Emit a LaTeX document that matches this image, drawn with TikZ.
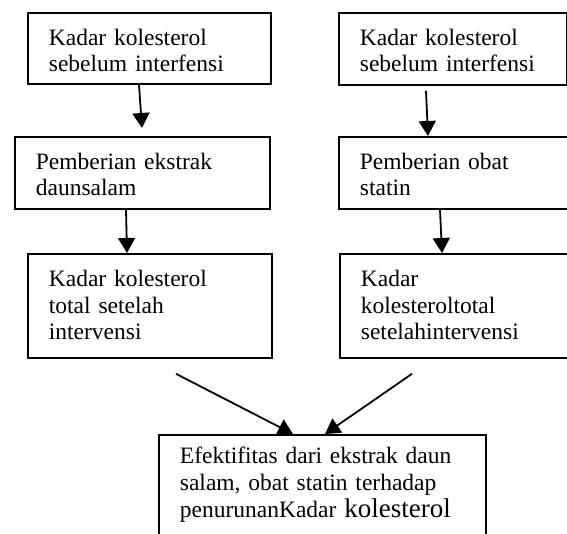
\documentclass[tikz,border=0pt]{standalone}
\usepackage{fontspec}
\setmainfont{Liberation Serif}
\usetikzlibrary{arrows.meta}
\tikzset{
  box/.style n args={3}{draw, line width=0.9pt, anchor=north west, align=left,
    inner xsep=10.5pt, inner ysep=0pt, text height=16.25pt,
    minimum width=#1, text width=#2, text depth=#3},
  arr/.style={line width=0.9pt, -{Triangle[length=7.5pt,width=8.5pt]}}
}
\begin{document}
\begin{tikzpicture}[x=0.5pt,y=-0.5pt,font=\fontsize{11.75}{13.3}\selectfont]
\useasboundingbox (0,0) rectangle (567,534);
\node[box={121.5pt}{100.5pt}{19.25pt}] (k1) at (27,12) {Kadar kolesterol\\sebelum interfensi};
\node[box={114pt}{93pt}{19.75pt}] (k2) at (338,12) {Kadar kolesterol\\sebelum interfensi};
\node[box={127.5pt}{106.5pt}{19.75pt}] (p1) at (14,136) {Pemberian ekstrak\\daunsalam};
\node[box={115pt}{94pt}{19.75pt}] (p2) at (338,136) {Pemberian obat\\statin};
\node[box={122pt}{101pt}{35.75pt}] (t1) at (27,253) {Kadar kolesterol\\total setelah\\intervensi};
\node[box={115pt}{94pt}{35.75pt}] (t2) at (339,253) {Kadar\\kolesteroltotal\\setelahintervensi};
\node[box={163.5pt}{142.5pt}{60pt}, text height=14.5pt] (ef) at (158,434)
  {Efektifitas dari ekstrak daun\\salam, obat statin terhadap\\penurunanKadar {\fontsize{13.5}{13.3}\selectfont kolesterol}};
\draw[arr] (k1.south -| 139,0) -- ([yshift=4pt]p1.north -| 142,0);
\draw[arr] ([yshift=-2.5pt]k2.south -| 426,0) -- (p2.north -| 428,0);
\draw[arr] (p1.south -| 126,0) -- (t1.north -| 127,0);
\draw[arr] (p2.south -| 440,0) -- (t2.north -| 442,0);
\draw[arr] ([yshift=-7.5pt]t1.south -| 176,0) -- (ef.north -| 293,0);
\draw[arr] ([yshift=-7.5pt]t2.south -| 412,0) -- (ef.north -| 325,0);
\end{tikzpicture}
\end{document}
